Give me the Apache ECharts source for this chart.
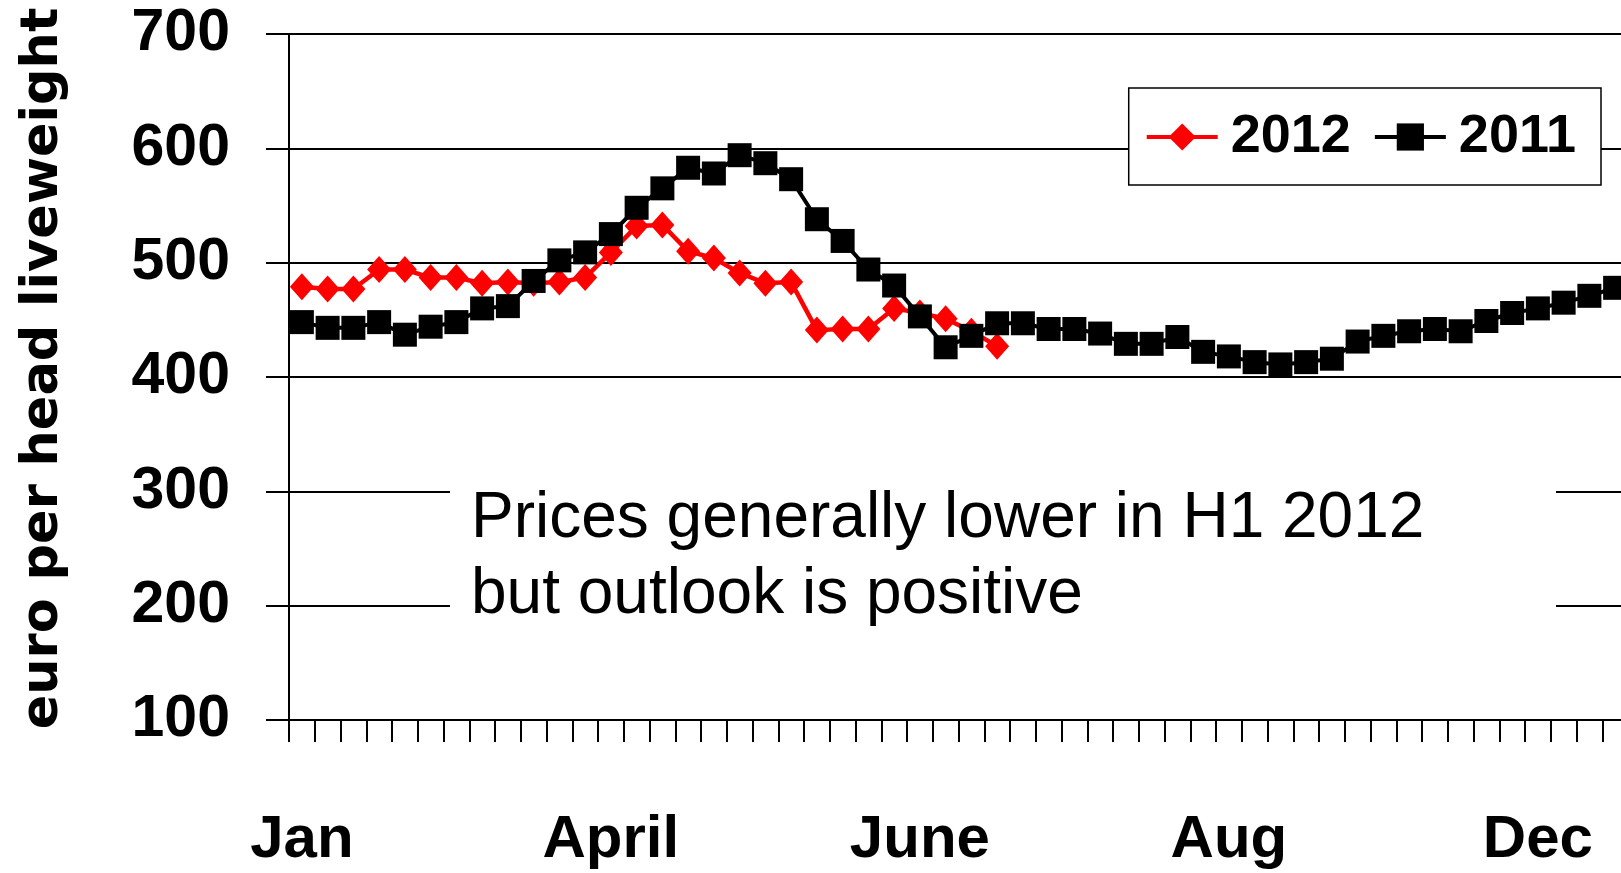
<!DOCTYPE html>
<html>
<head>
<meta charset="utf-8">
<script src="https://cdn.jsdelivr.net/npm/echarts@6/dist/echarts.min.js"></script>
<style>
html,body{margin:0;padding:0;background:#fff;}
#chart{width:1621px;height:873px;}
</style>
</head>
<body>
<div id="chart"></div>
<script>
// Month labels shown every 12 weeks
const monthLabels = ['Jan', 'April', 'June', 'Aug', 'Dec'];
const labelEvery = 12;
const weekCount = 52;

// Weekly prices, euro per head liveweight
const values2012 = [479, 477, 477, 494, 494, 487, 487, 482, 483, 482,
                    483, 487, 509, 532, 533, 510, 504, 491, 482, 483,
                    441, 442, 442, 460, 456, 451, 440, 427];
const values2011 = [448, 443, 443, 448, 437, 444, 448, 460, 462, 484,
                    502, 509, 525, 548, 565, 583, 578, 594, 587, 573,
                    538, 519, 494, 480, 453, 426, 436, 447, 447, 442,
                    442, 438, 429, 429, 435, 422, 418, 413, 411, 413,
                    416, 431, 436, 440, 442, 440, 449, 456, 460, 465,
                    471, 478];

const yTicks = [100, 200, 300, 400, 500, 600, 700];
const seriesNames = ['2012', '2011'];
const noteLines = ['Prices generally lower in H1 2012', 'but outlook is positive'];

const categories = [];
for (let i = 0; i < weekCount; i++) {
  categories.push(i % labelEvery === 0 ? (monthLabels[i / labelEvery] || '') : '');
}

const chart = echarts.init(document.getElementById('chart'), null, {renderer: 'canvas'});
const option = {
  animation: false,
  backgroundColor: '#ffffff',
  grid: {
    left: 289, top: 34, width: 1339, height: 686,
    containLabel: false, outerBoundsMode: 'none'
  },
  legend: {
    data: seriesNames,
    right: 20, top: 88,
    orient: 'horizontal',
    backgroundColor: '#ffffff',
    borderColor: '#000000',
    borderWidth: 1.5,
    borderRadius: 0,
    padding: [22, 25, 21, 16],
    itemGap: 22,
    itemWidth: 71,
    itemHeight: 34,
    lineStyle: {width: 4},
    textStyle: {
      fontFamily: 'Liberation Sans', fontWeight: 'bold', fontSize: 54,
      color: '#000', padding: [0, 0, 0, 8]
    }
  },
  xAxis: {
    type: 'category',
    data: categories,
    boundaryGap: true,
    axisLine: {show: true, lineStyle: {color: '#000', width: 2}},
    axisTick: {show: true, interval: 0, length: 22, inside: false, lineStyle: {color: '#000', width: 2}},
    axisLabel: {
      interval: labelEvery - 1, margin: 90,
      fontFamily: 'Liberation Sans', fontWeight: 'bold', fontSize: 60, color: '#000'
    },
    splitLine: {show: false}
  },
  yAxis: {
    type: 'value',
    min: yTicks[0], max: yTicks[yTicks.length - 1], interval: 100,
    name: 'euro per head liveweight',
    nameLocation: 'middle',
    nameGap: 220,
    nameTextStyle: {
      fontFamily: 'DejaVu Sans', fontWeight: 'bold', fontSize: 51, color: '#000',
      padding: [0, 0, 0, 17]
    },
    axisLine: {show: true, lineStyle: {color: '#000', width: 2}},
    axisTick: {show: true, length: 23, inside: false, lineStyle: {color: '#000', width: 2}},
    axisLabel: {
      margin: 59,
      fontFamily: 'Liberation Sans', fontWeight: 'bold', fontSize: 59, color: '#000'
    },
    splitLine: {show: true, lineStyle: {color: '#000', width: 2}}
  },
  graphic: [
    {
      type: 'rect', z: 50,
      shape: {x: 450, y: 470, width: 1106, height: 160},
      style: {fill: '#ffffff'}
    },
    {
      type: 'text', z: 51, x: 471, y: 481,
      style: {
        text: noteLines.join('\n'),
        fontFamily: 'Liberation Sans', fontSize: 64, lineHeight: 76,
        fill: '#000', textAlign: 'left', textVerticalAlign: 'top'
      }
    }
  ],
  series: [
    {
      name: seriesNames[0], type: 'line', data: values2012,
      symbol: 'diamond', symbolSize: [24, 27], showAllSymbol: true,
      lineStyle: {color: '#ff0000', width: 4.5},
      itemStyle: {color: '#ff0000', borderWidth: 0},
      z: 2
    },
    {
      name: seriesNames[1], type: 'line', data: values2011,
      symbol: 'rect', symbolSize: 24, showAllSymbol: true,
      lineStyle: {color: '#000000', width: 4},
      itemStyle: {color: '#000000', borderWidth: 0},
      z: 3
    }
  ]
};
chart.setOption(option);
</script>
</body>
</html>
